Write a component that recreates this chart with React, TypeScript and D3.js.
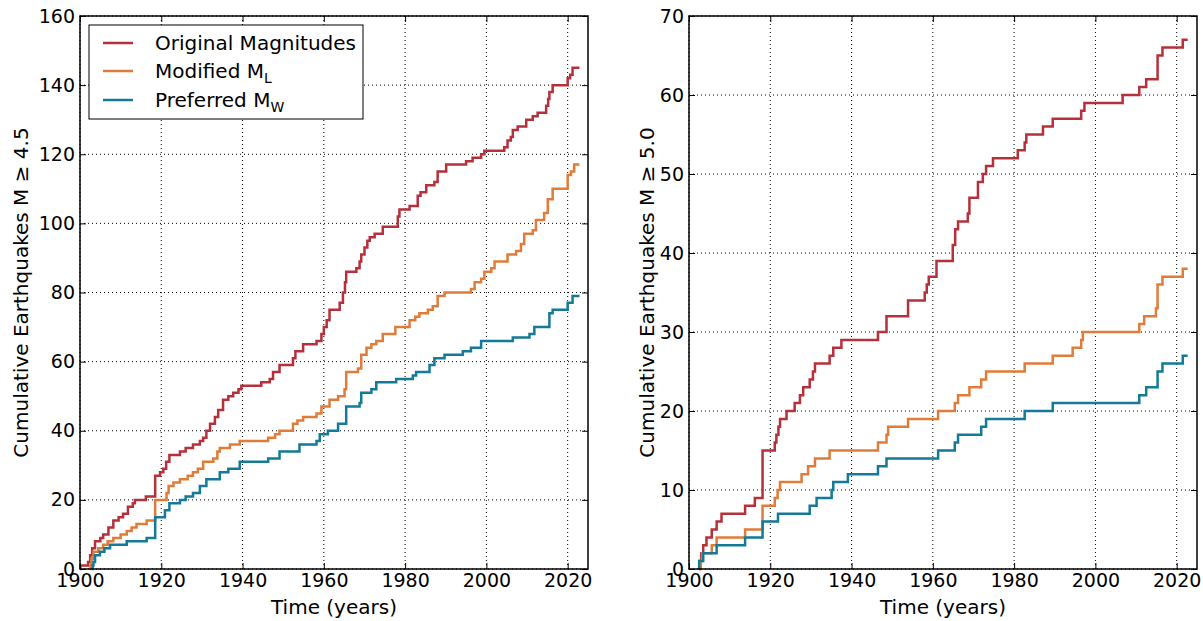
import React, { useEffect, useRef } from 'react'
import * as d3 from 'd3'

type Step = [number, number]

const yearTicks = [1900, 1920, 1940, 1960, 1980, 2000, 2020]
const ticksM45 = [0, 20, 40, 60, 80, 100, 120, 140, 160]
const ticksM50 = [0, 10, 20, 30, 40, 50, 60, 70]

const originalM45: Step[] = [[1900.0, 0], [1900.1, 1], [1902.0, 2], [1902.5, 4], [1903.0, 6], [1903.7, 8], [1905.0, 9], [1905.7, 10], [1907.0, 12], [1908.2, 14], [1909.5, 15], [1910.6, 16], [1911.8, 18], [1913.0, 19], [1913.5, 20], [1916.2, 21], [1918.5, 27], [1919.7, 28], [1920.5, 29], [1921.2, 31], [1922.0, 33], [1924.6, 34], [1926.0, 35], [1927.8, 36], [1929.5, 37], [1930.3, 38], [1931.1, 40], [1932.0, 42], [1933.2, 44], [1934.0, 46], [1935.2, 49], [1936.5, 50], [1937.7, 51], [1939.0, 52], [1939.7, 53], [1944.6, 54], [1946.7, 55], [1947.5, 57], [1949.1, 59], [1952.4, 61], [1953.0, 63], [1954.9, 65], [1958.2, 66], [1959.4, 68], [1960.0, 70], [1960.7, 72], [1961.4, 75], [1963.9, 77], [1964.7, 80], [1965.2, 83], [1965.5, 86], [1968.0, 87], [1968.8, 89], [1969.2, 91], [1970.0, 93], [1970.7, 95], [1971.3, 96], [1972.5, 97], [1974.5, 99], [1978.2, 102], [1978.6, 104], [1981.1, 105], [1983.1, 108], [1983.8, 109], [1985.2, 111], [1987.2, 112], [1988.0, 115], [1990.1, 117], [1995.0, 118], [1996.6, 119], [1998.7, 120], [1999.5, 121], [2004.4, 122], [2005.2, 124], [2006.0, 125], [2006.5, 127], [2007.7, 128], [2009.8, 130], [2011.4, 131], [2012.6, 132], [2014.7, 134], [2015.2, 136], [2015.5, 138], [2016.3, 140], [2020.0, 142], [2020.6, 143], [2021.2, 145], [2022.9, 145]]
const modifiedM45: Step[] = [[1902.5, 0], [1902.6, 1], [1902.8, 3], [1903.3, 5], [1904.5, 6], [1905.7, 7], [1906.8, 8], [1908.2, 9], [1910.0, 10], [1911.5, 11], [1912.7, 12], [1913.9, 13], [1916.4, 14], [1918.5, 20], [1921.3, 22], [1921.8, 24], [1923.0, 25], [1924.6, 26], [1926.5, 27], [1927.8, 28], [1929.0, 29], [1930.3, 31], [1932.8, 32], [1933.8, 34], [1934.4, 35], [1936.9, 36], [1939.3, 37], [1946.3, 38], [1948.0, 39], [1949.1, 40], [1952.4, 42], [1953.5, 43], [1954.9, 44], [1958.2, 45], [1959.4, 47], [1961.4, 49], [1963.5, 50], [1965.1, 52], [1965.5, 57], [1968.4, 58], [1969.2, 62], [1970.5, 64], [1971.7, 65], [1972.9, 66], [1974.5, 68], [1977.6, 70], [1981.1, 72], [1982.5, 73], [1983.5, 74], [1985.6, 75], [1986.8, 76], [1988.0, 79], [1989.7, 80], [1996.2, 81], [1997.1, 83], [1998.7, 84], [1999.5, 86], [2001.2, 87], [2002.0, 89], [2005.2, 91], [2007.3, 92], [2008.5, 94], [2009.3, 97], [2011.4, 98], [2012.2, 101], [2014.2, 103], [2015.1, 107], [2016.3, 110], [2020.0, 114], [2020.8, 115], [2021.6, 117], [2022.9, 117]]
const preferredM45: Step[] = [[1903.0, 0], [1903.1, 1], [1903.3, 2], [1903.7, 4], [1904.9, 5], [1906.0, 6], [1907.4, 7], [1911.5, 8], [1916.4, 9], [1918.5, 15], [1920.9, 17], [1922.0, 19], [1924.6, 20], [1926.0, 21], [1927.8, 22], [1929.5, 24], [1931.1, 26], [1934.4, 28], [1936.5, 29], [1939.3, 31], [1946.3, 32], [1949.1, 34], [1954.0, 36], [1958.2, 37], [1959.0, 39], [1961.0, 40], [1963.5, 42], [1965.5, 47], [1968.8, 48], [1969.2, 51], [1971.7, 52], [1972.9, 54], [1977.8, 55], [1981.9, 56], [1982.7, 57], [1986.0, 59], [1987.2, 61], [1989.7, 62], [1994.2, 63], [1996.2, 64], [1998.7, 66], [2006.5, 67], [2010.6, 68], [2011.8, 70], [2015.5, 74], [2016.3, 75], [2020.0, 77], [2021.2, 79], [2022.9, 79]]

// M >= 5.0
const originalM50: Step[] = [[1902.5, 0], [1902.6, 1], [1903.0, 2], [1903.5, 3], [1904.3, 4], [1905.6, 5], [1906.8, 6], [1908.0, 7], [1913.8, 8], [1916.2, 9], [1918.1, 15], [1921.1, 16], [1921.5, 17], [1922.0, 18], [1922.4, 19], [1924.0, 20], [1926.0, 21], [1927.3, 22], [1928.1, 23], [1929.7, 24], [1930.5, 25], [1931.0, 26], [1934.6, 27], [1935.5, 28], [1937.5, 29], [1946.5, 30], [1948.6, 32], [1953.9, 34], [1958.0, 35], [1958.5, 36], [1959.0, 37], [1960.9, 39], [1964.9, 41], [1965.5, 43], [1966.2, 44], [1968.6, 45], [1969.0, 47], [1971.1, 49], [1972.3, 50], [1973.1, 51], [1974.8, 52], [1980.9, 53], [1982.6, 54], [1983.0, 55], [1987.1, 56], [1989.5, 57], [1996.5, 58], [1997.3, 59], [2006.7, 60], [2010.8, 61], [2012.5, 62], [2015.3, 65], [2016.5, 66], [2021.5, 67], [2022.7, 67]]
const modifiedM50: Step[] = [[1902.8, 0], [1902.9, 1], [1903.2, 2], [1905.6, 3], [1906.8, 4], [1913.8, 5], [1918.1, 8], [1921.1, 9], [1921.8, 10], [1922.4, 11], [1927.7, 12], [1929.3, 13], [1931.0, 14], [1934.6, 15], [1946.5, 16], [1948.6, 17], [1949.0, 18], [1953.9, 19], [1961.3, 20], [1965.4, 21], [1966.2, 22], [1969.0, 23], [1971.9, 24], [1973.1, 25], [1982.6, 26], [1989.5, 27], [1994.4, 28], [1996.5, 29], [1996.9, 30], [2010.8, 31], [2012.0, 32], [2014.9, 33], [2015.3, 36], [2016.5, 37], [2021.5, 38], [2022.7, 38]]
const preferredM50: Step[] = [[1902.4, 0], [1902.5, 1], [1903.5, 2], [1906.8, 3], [1913.8, 4], [1918.1, 6], [1921.9, 7], [1929.7, 8], [1931.4, 9], [1935.1, 10], [1935.5, 11], [1939.1, 12], [1946.5, 13], [1948.6, 14], [1961.3, 15], [1965.4, 16], [1966.2, 17], [1971.9, 18], [1973.1, 19], [1982.6, 20], [1989.5, 21], [2010.8, 22], [2012.5, 23], [2015.3, 25], [2016.5, 26], [2021.5, 27], [2022.7, 27]]

const seriesNames = ['Original Magnitudes', 'Modified M', 'Preferred M']
const seriesSubs = ['', 'L', 'W']
const colors = ['#b5303b', '#df7c3a', '#137a97']

const FONT = 'DejaVu Sans'
const TOP = 16, BOTTOM = 569, PLOT_W = 508

function drawPanel(svg: any, left: number, yMax: number, yTicks: number[], label: string, series: Step[][], labelX: number, legend: boolean) {
    const x = d3.scaleLinear().domain([1900, 2025]).range([left, left + PLOT_W])
    const y = d3.scaleLinear().domain([0, yMax]).range([BOTTOM, TOP])
    const g = svg.append('g')

    // dotted grid
    g.selectAll('.vg').data(yearTicks).enter().append('line')
        .attr('x1', (d: number) => x(d)).attr('x2', (d: number) => x(d))
        .attr('y1', TOP).attr('y2', BOTTOM)
        .attr('stroke', '#000').attr('stroke-width', 1).attr('stroke-dasharray', '1,3')
    g.selectAll('.hg').data(yTicks).enter().append('line')
        .attr('y1', (d: number) => y(d)).attr('y2', (d: number) => y(d))
        .attr('x1', left).attr('x2', left + PLOT_W)
        .attr('stroke', '#000').attr('stroke-width', 1).attr('stroke-dasharray', '1,3')

    const line = d3.line<Step>().x(d => x(d[0])).y(d => y(d[1])).curve(d3.curveStepAfter)
    series.forEach((s, i) => {
        g.append('path').attr('d', line(s)).attr('fill', 'none')
            .attr('stroke', colors[i]).attr('stroke-width', 2.5)
    })

    const styleAxis = (a: any) => {
        a.attr('font-family', FONT).attr('font-size', 19)
        a.select('.domain').remove()
        a.selectAll('line').attr('stroke', '#000').attr('stroke-width', 1)
        a.selectAll('text').attr('fill', '#000')
    }
    g.append('g').attr('transform', `translate(0,${BOTTOM})`)
        .call(d3.axisBottom(x).tickValues(yearTicks).tickSize(-6).tickSizeOuter(0).tickPadding(5).tickFormat(d3.format('d')))
        .call(styleAxis)
    g.append('g').attr('transform', `translate(0,${TOP})`)
        .call(d3.axisTop(x).tickValues(yearTicks).tickSize(-6).tickSizeOuter(0).tickFormat(() => ''))
        .call(styleAxis)
    g.append('g').attr('transform', `translate(${left},0)`)
        .call(d3.axisLeft(y).tickValues(yTicks).tickSize(-6).tickSizeOuter(0).tickPadding(5))
        .call(styleAxis)
    g.append('g').attr('transform', `translate(${left + PLOT_W},0)`)
        .call(d3.axisRight(y).tickValues(yTicks).tickSize(-6).tickSizeOuter(0).tickFormat(() => ''))
        .call(styleAxis)

    g.append('rect').attr('x', left).attr('y', TOP).attr('width', PLOT_W).attr('height', BOTTOM - TOP)
        .attr('fill', 'none').attr('stroke', '#000').attr('stroke-width', 1.5)

    g.append('text').attr('x', left + PLOT_W / 2).attr('y', 614)
        .attr('text-anchor', 'middle').attr('font-family', FONT).attr('font-size', 20)
        .text('Time (years)')
    g.append('text').attr('transform', `translate(${labelX},${(TOP + BOTTOM) / 2}) rotate(-90)`)
        .attr('text-anchor', 'middle').attr('font-family', FONT).attr('font-size', 20)
        .text(label)

    if (legend) {
        const lg = g.append('g')
        lg.append('rect').attr('x', 89).attr('y', 25).attr('width', 274).attr('height', 94)
            .attr('fill', '#fff').attr('stroke', '#000').attr('stroke-width', 1)
        const rowY = [43, 71, 100]
        seriesNames.forEach((name, i) => {
            lg.append('line').attr('x1', 103).attr('x2', 133).attr('y1', rowY[i]).attr('y2', rowY[i])
                .attr('stroke', colors[i]).attr('stroke-width', 2.5)
            const t = lg.append('text').attr('x', 155).attr('y', rowY[i] + 7)
                .attr('font-family', FONT).attr('font-size', 20).text(name)
            if (seriesSubs[i]) {
                t.append('tspan').attr('dy', 5).attr('font-size', 14).text(seriesSubs[i])
            }
        })
    }
}

export default function App() {
    const ref = useRef<SVGSVGElement>(null)
    useEffect(() => {
        const svg = d3.select(ref.current)
        svg.selectAll('*').remove()
        svg.append('rect').attr('width', 1203).attr('height', 621).attr('fill', '#fff')
        drawPanel(svg, 80, 160, ticksM45, 'Cumulative Earthquakes M \u2265 4.5', [originalM45, modifiedM45, preferredM45], 28, true)
        drawPanel(svg, 689, 70, ticksM50, 'Cumulative Earthquakes M \u2265 5.0', [originalM50, modifiedM50, preferredM50], 654, false)
    }, [])
    return (
        <div style={{ position: 'absolute', left: 0, top: 0 }}>
            <svg ref={ref} width={1203} height={621} style={{ display: 'block' }} />
        </div>
    )
}
